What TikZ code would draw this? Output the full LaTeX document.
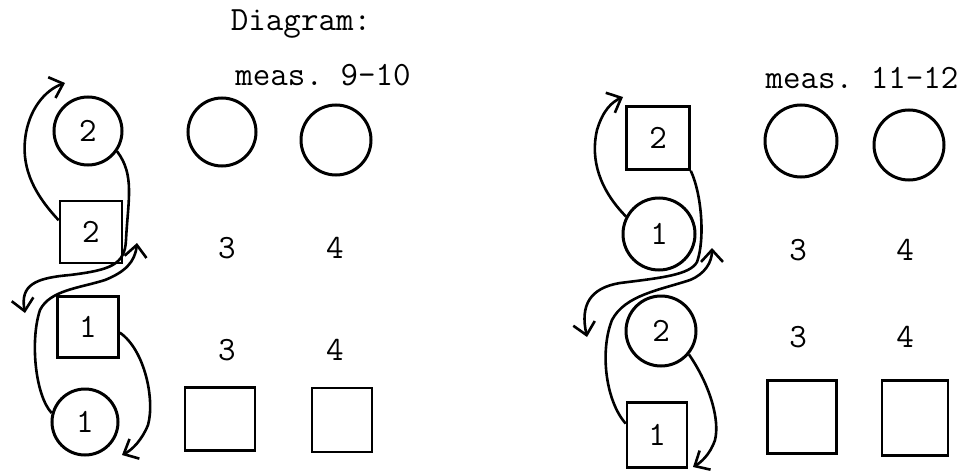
\documentclass[tikz,border=0pt]{standalone}
\usetikzlibrary{arrows.meta}
\begin{document}
\begin{tikzpicture}[x=1pt,y=-1pt,
  every node/.style={font=\fontsize{34}{36}\selectfont\ttfamily, inner sep=0pt},
  circ/.style={draw, circle, line width=3pt},
  sq/.style={draw, rectangle, line width=2.6pt},
  conn/.style={line width=2.6pt, -{Straight Barb[length=12pt,width=22pt,line width=2.6pt]}}]
\useasboundingbox (0,0) rectangle (962,471);
% titles
\node (title) at (301,24) {Diagram:};
\node (measL) at (323,75) {meas.\ 9-10};
\node (measR) at (862,78) {meas.\ 11-12};
% ---------------- left panel ----------------
\node[circ, minimum size=68pt] (c2) at (88,131) {2};
\node[circ, minimum size=68pt] (e3a) at (222,132) {};
\node[circ, minimum size=70pt] (e4a) at (336,140) {};
\node[sq, minimum width=62pt, minimum height=62pt] (s2) at (91,232) {2};
\node[sq, minimum width=61pt, minimum height=61pt] (s1) at (88,327) {1};
\node[circ, minimum size=66pt] (c1) at (85,422) {1};
\node (t3a) at (227,248) {3};
\node (t4a) at (335,248) {4};
\node (t3b) at (227,350) {3};
\node (t4b) at (335,350) {4};
\node[sq, minimum width=70pt, minimum height=63pt] (q3a) at (220,419) {};
\node[sq, minimum width=60pt, minimum height=64pt] (q4a) at (342,420) {};
\coordinate (la1) at (65,83);
\coordinate (la2) at (25,313);
\coordinate (la3) at (137,243);
\coordinate (la4) at (122,455);
\draw[conn] (s2.160) .. controls (35,195) and (22,170) .. (25,140)
  .. controls (28,110) and (45,90) .. (la1);
\draw[conn] (c2.-35) .. controls (135,175) and (128,200) .. (126,240)
  .. controls (125,265) and (110,270) .. (70,275)
  .. controls (35,278) and (20,285) .. (la2);
\draw[conn] (c1.165) .. controls (35,395) and (30,340) .. (40,310)
  .. controls (50,290) and (80,288) .. (105,280)
  .. controls (125,272) and (135,262) .. (la3);
\draw[conn] (s1.-10) .. controls (145,350) and (155,400) .. (148,425)
  .. controls (142,440) and (132,450) .. (la4);
% ---------------- right panel ----------------
\node[sq, minimum width=63pt, minimum height=63pt] (rs2) at (658,138) {2};
\node[circ, minimum size=72pt] (rc1) at (659,234) {1};
\node[circ, minimum size=70pt] (rc2) at (661,331) {2};
\node[sq, minimum width=60pt, minimum height=65pt] (rs1) at (657,435) {1};
\node[circ, minimum size=72pt] (e3b) at (801,141) {};
\node[circ, minimum size=70pt] (e4b) at (909,145) {};
\node (r3a) at (798,250) {3};
\node (r4a) at (905,250) {4};
\node (r3b) at (798,337) {3};
\node (r4b) at (905,337) {4};
\node[sq, minimum width=69pt, minimum height=73pt] (q3b) at (802,417) {};
\node[sq, minimum width=66pt, minimum height=75pt] (q4b) at (915,418) {};
\coordinate (ra1) at (623,97);
\coordinate (ra2) at (587,337);
\coordinate (ra3) at (712,248);
\coordinate (ra4) at (693,467);
\draw[conn] (rc1.152) .. controls (600,190) and (590,160) .. (597,130)
  .. controls (603,110) and (612,102) .. (ra1);
\draw[conn] (rs2.south east) .. controls (702,195) and (705,240) .. (697,262)
  .. controls (690,275) and (660,278) .. (620,283)
  .. controls (590,288) and (580,305) .. (ra2);
\draw[conn] (rs1.160) .. controls (605,400) and (600,350) .. (612,320)
  .. controls (625,295) and (660,290) .. (690,280)
  .. controls (705,274) and (712,262) .. (ra3);
\draw[conn] (rc2.-40) .. controls (710,385) and (720,420) .. (715,440)
  .. controls (710,455) and (700,463) .. (ra4);
\end{tikzpicture}
\end{document}
